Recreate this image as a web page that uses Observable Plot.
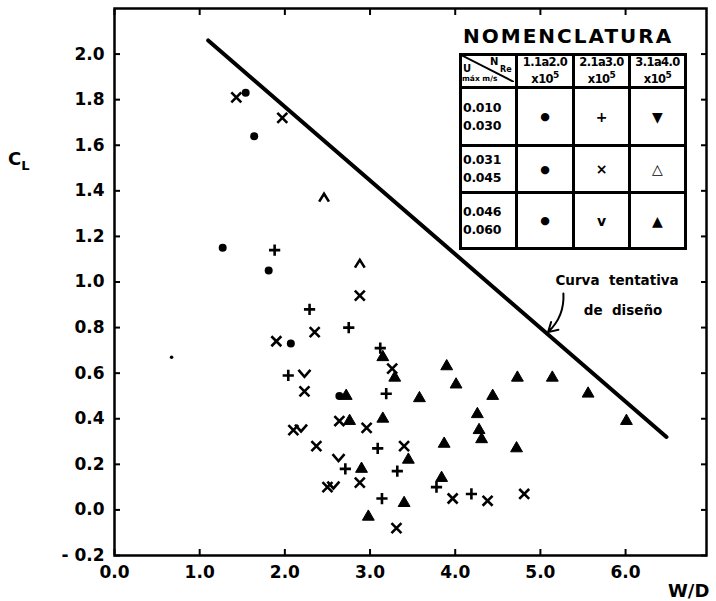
<!DOCTYPE html>
<html>
<head>
<meta charset="utf-8">
<script src="https://cdn.jsdelivr.net/npm/d3@7"></script>
<script src="https://cdn.jsdelivr.net/npm/@observablehq/plot@0.6"></script>
<style>
  html, body { margin: 0; padding: 0; background: #fff; }
  #chart { position: relative; width: 716px; height: 601px; font-family: "DejaVu Sans", sans-serif; font-weight: bold; color: #000; }
  #chart svg { position: absolute; left: 0; top: 0; }
  .lbl { position: absolute; font-size: 18px; line-height: 1; }
  .lbl sub { font-size: 13px; vertical-align: -5px; }
  #nom-title { position: absolute; left: 463px; top: 26px; font-size: 20px; letter-spacing: 2px; line-height: 1; }
  #nom { position: absolute; left: 459px; top: 53px; border-collapse: collapse; table-layout: fixed; }
  #nom td { border: 3px solid #000; padding: 0; text-align: center; vertical-align: middle; }
  #nom td.range { font-size: 12.5px; line-height: 1.45; text-align: left; padding-left: 1px; letter-spacing: -0.3px; }
  #nom td.head { font-size: 11.5px; line-height: 1.2; letter-spacing: -0.6px; }
  #nom td.head sup { font-size: 9px; }
  #nom td.sym { font-size: 14px; }
  #nom td.sym.small { font-size: 11px; }
</style>
</head>
<body>
<div id="chart"></div>
<script>
// Axis ticks and their printed labels
const xTicks = [0, 1, 2, 3, 4, 5, 6];
const xTickLabels = ["0.0", "1.0", "2.0", "3.0", "4.0", "5.0", "6.0"];
const yTicks = [-0.2, 0, 0.2, 0.4, 0.6, 0.8, 1.0, 1.2, 1.4, 1.6, 1.8, 2.0];
const yTickLabels = ["- 0.2", "0.0", "0.2", "0.4", "0.6", "0.8", "1.0", "1.2", "1.4", "1.6", "1.8", "2.0"];

// Measurements [W/D, C_L], grouped by plotting symbol
const circles = [[1.54, 1.83], [1.64, 1.64], [1.27, 1.15], [1.81, 1.05], [2.07, 0.73], [2.64, 0.50]];
const specks = [[0.67, 0.67]];
const pluses = [
  [1.88, 1.14], [2.29, 0.88], [2.75, 0.80], [2.04, 0.59], [3.12, 0.71], [3.19, 0.51],
  [2.71, 0.18], [3.09, 0.27], [3.32, 0.17], [3.78, 0.10], [4.19, 0.07], [3.14, 0.05]
];
const crosses = [
  [1.43, 1.81], [1.97, 1.72], [2.35, 0.78], [1.90, 0.74], [2.23, 0.52], [2.88, 0.94],
  [3.26, 0.62], [2.64, 0.39], [2.10, 0.35], [2.37, 0.28], [2.96, 0.36], [3.40, 0.28],
  [2.50, 0.10], [2.88, 0.12], [3.97, 0.05], [4.38, 0.04], [4.81, 0.07], [3.31, -0.08]
];
const checks = [[2.23, 0.60], [2.19, 0.36], [2.63, 0.23], [2.57, 0.11]];
const carets = [[2.46, 1.37], [2.88, 1.08]];
const triangles = [
  [2.72, 0.50], [3.15, 0.67], [3.29, 0.58], [3.90, 0.63], [4.01, 0.55], [3.58, 0.49],
  [4.44, 0.50], [4.73, 0.58], [2.76, 0.39], [3.15, 0.40], [4.26, 0.42], [4.28, 0.35],
  [4.31, 0.31], [3.87, 0.29], [4.72, 0.27], [2.90, 0.18], [3.45, 0.22], [3.84, 0.14],
  [3.40, 0.03], [2.98, -0.03], [5.14, 0.58], [5.56, 0.51], [6.01, 0.39]
];

// Tentative design curve (end points)
const designCurve = [[1.10, 2.06], [6.48, 0.32]];

// Legend (nomenclature) contents
const reynoldsRanges = ["1.1a2.0", "2.1a3.0", "3.1a4.0"];
const velocityRanges = [["0.010", "0.030"], ["0.031", "0.045"], ["0.046", "0.060"]];
const legendGlyphs = [["●", "+", "▼"], ["●", "×", "△"], ["●", "v", "▲"]];

// Open "v" and "^" glyphs as custom symbols
const vSymbol = {
  draw(ctx, size) {
    const r = Math.sqrt(size / Math.PI);
    ctx.moveTo(-r, -r * 0.55); ctx.lineTo(0, r * 0.6); ctx.lineTo(r, -r * 0.55);
  }
};
const caretSymbol = {
  draw(ctx, size) {
    const r = Math.sqrt(size / Math.PI);
    ctx.moveTo(-r * 0.75, r * 0.6); ctx.lineTo(0, -r * 0.6); ctx.lineTo(r * 0.75, r * 0.6);
  }
};

const px = d => d[0], py = d => d[1];
const xLabel = new Map(xTicks.map((t, i) => [t, xTickLabels[i]]));
const yLabel = new Map(yTicks.map((t, i) => [t, yTickLabels[i]]));

const plot = Plot.plot({
  width: 716,
  height: 601,
  marginLeft: 114,
  marginRight: 10,
  marginTop: 8,
  marginBottom: 46,
  x: {domain: [0, 6.95]},
  y: {domain: [-0.2, 2.2]},
  style: {fontFamily: "DejaVu Sans, sans-serif", fontWeight: "bold", fontSize: "17px", background: "white", color: "black"},
  marks: [
    Plot.frame({stroke: "black", strokeWidth: 2.5}),
    Plot.axisX(xTicks, {anchor: "bottom", tickSize: -6, tickPadding: 16, strokeWidth: 2, label: null, tickFormat: d => xLabel.get(d)}),
    Plot.axisX(xTicks, {anchor: "top", tickSize: -6, strokeWidth: 2, label: null, tickFormat: () => ""}),
    Plot.axisY(yTicks, {anchor: "left", tickSize: -6, tickPadding: 16, strokeWidth: 2, label: null, tickFormat: d => yLabel.get(d)}),
    Plot.axisY(yTicks, {anchor: "right", tickSize: -6, strokeWidth: 2, label: null, tickFormat: () => ""}),
    Plot.line(designCurve, {x: px, y: py, stroke: "black", strokeWidth: 4}),
    Plot.dot(circles, {x: px, y: py, r: 4, fill: "black", stroke: "none"}),
    Plot.dot(specks, {x: px, y: py, r: 1.8, fill: "black", stroke: "none"}),
    Plot.dot(pluses, {x: px, y: py, symbol: "plus", r: 3.7, fill: "none", stroke: "black", strokeWidth: 2.6}),
    Plot.dot(crosses, {x: px, y: py, symbol: "times", r: 4.6, fill: "none", stroke: "black", strokeWidth: 2.6}),
    Plot.dot(checks, {x: px, y: py, symbol: vSymbol, r: 6, fill: "none", stroke: "black", strokeWidth: 2.6}),
    Plot.dot(carets, {x: px, y: py, symbol: caretSymbol, r: 6.5, fill: "none", stroke: "black", strokeWidth: 2.6}),
    Plot.dot(triangles, {x: px, y: py, symbol: "triangle", r: 4.4, fill: "black", stroke: "black", strokeWidth: 1}),
    Plot.text(["Curva  tentativa"], {x: 5.9, y: 1.005, fontSize: 13.5, fontWeight: "bold", fill: "black"}),
    Plot.text(["de  diseño"], {x: 5.97, y: 0.875, fontSize: 13.5, fontWeight: "bold", fill: "black"}),
    Plot.arrow([0], {x1: 5.27, y1: 0.95, x2: 5.09, y2: 0.78, bend: 25, stroke: "black", strokeWidth: 2, headLength: 8})
  ]
});

const chart = document.getElementById("chart");
chart.appendChild(plot);

// Axis titles
const cl = document.createElement("div");
cl.className = "lbl";
cl.style.left = "8px"; cl.style.top = "150px";
cl.innerHTML = "C<sub>L</sub>";
chart.appendChild(cl);

const wd = document.createElement("div");
wd.className = "lbl";
wd.style.left = "668px"; wd.style.top = "582px";
wd.textContent = "W/D";
chart.appendChild(wd);

// Nomenclature table
const title = document.createElement("div");
title.id = "nom-title";
title.textContent = "NOMENCLATURA";
chart.appendChild(title);

const colWidths = [56, 57, 56, 56];
const rowHeights = [30, 58, 47, 56];
const table = document.createElement("table");
table.id = "nom";
const colgroup = document.createElement("colgroup");
colWidths.forEach(w => { const c = document.createElement("col"); c.style.width = w + "px"; colgroup.appendChild(c); });
table.appendChild(colgroup);

const head = document.createElement("tr");
head.style.height = rowHeights[0] + "px";
const corner = document.createElement("td");
corner.innerHTML = `<svg width="53" height="27" style="display:block">
  <line x1="0" y1="0" x2="53" y2="27" stroke="black" stroke-width="2"/>
  <text x="29" y="10" font-size="10" font-weight="bold" font-family="DejaVu Sans">N</text>
  <text x="39" y="17" font-size="8" font-weight="bold" font-family="DejaVu Sans">Re</text>
  <text x="2" y="17" font-size="10" font-weight="bold" font-family="DejaVu Sans">U</text>
  <text x="1" y="26" font-size="7.5" font-weight="bold" font-family="DejaVu Sans">máx m/s</text>
</svg>`;
head.appendChild(corner);
reynoldsRanges.forEach(r => {
  const td = document.createElement("td");
  td.className = "head";
  td.innerHTML = `${r}<br>x10<sup>5</sup>`;
  head.appendChild(td);
});
table.appendChild(head);

velocityRanges.forEach((v, i) => {
  const tr = document.createElement("tr");
  tr.style.height = rowHeights[i + 1] + "px";
  const lab = document.createElement("td");
  lab.className = "range";
  lab.innerHTML = `${v[0]}<br>${v[1]}`;
  tr.appendChild(lab);
  legendGlyphs[i].forEach(g => {
    const td = document.createElement("td");
    td.className = g === "●" ? "sym small" : "sym";
    td.textContent = g;
    tr.appendChild(td);
  });
  table.appendChild(tr);
});
chart.appendChild(table);
</script>
</body>
</html>
